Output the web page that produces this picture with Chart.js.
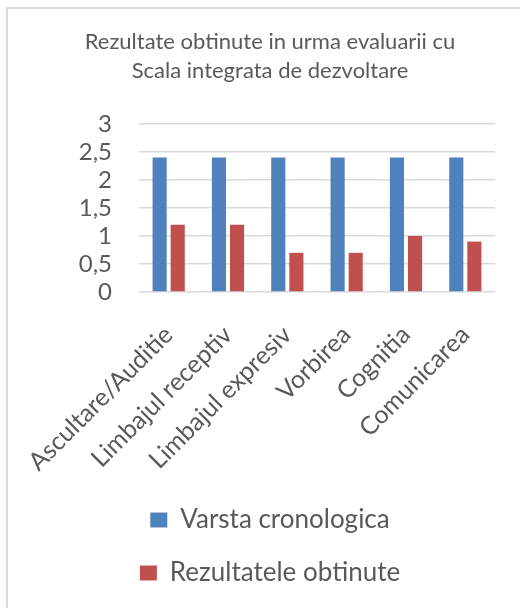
<!DOCTYPE html>
<html>
<head>
<meta charset="utf-8">
<script src="https://cdn.jsdelivr.net/npm/chart.js@4.4.1/dist/chart.umd.min.js"></script>
<style>
    body { margin: 0; background: #fff; }
    #wrap { position: relative; width: 520px; height: 608px; }
    #frame {
        position: absolute; left: 6px; top: 7px; right: 0; bottom: 0;
        border-left: 2px solid #dadada; border-top: 2px solid #dadada;
    }
    canvas { position: absolute; left: 0; top: 0; }
</style>
</head>
<body>
<div id="wrap">
    <div id="frame"></div>
    <canvas id="chart" width="520" height="608"></canvas>
</div>
<script>
// Chart data
const categories = ['Ascultare/Auditie', 'Limbajul receptiv', 'Limbajul expresiv', 'Vorbirea', 'Cognitia', 'Comunicarea'];
const varstaCronologica = [2.4, 2.4, 2.4, 2.4, 2.4, 2.4];
const rezultateleObtinute = [1.2, 1.2, 0.7, 0.7, 1.0, 0.9];
const titleLines = ['Rezultate obtinute in urma evaluarii cu', 'Scala integrata de dezvoltare'];

const textColor = '#595959';
const gridColor = '#d9d9d9';
const fontFamily = 'Lato, Carlito, Calibri, sans-serif';

const ctx = document.getElementById('chart').getContext('2d');
const chart = new Chart(ctx, {
    type: 'bar',
    data: {
        labels: categories,
        datasets: [{
            label: 'Varsta cronologica',
            data: varstaCronologica,
            backgroundColor: '#4f81bd',
            categoryPercentage: 0.61,
            barPercentage: 0.78
        }, {
            label: 'Rezultatele obtinute',
            data: rezultateleObtinute,
            backgroundColor: '#c0504d',
            categoryPercentage: 0.61,
            barPercentage: 0.78
        }]
    },
    options: {
        responsive: false,
        animation: false,
        layout: {
            padding: { top: 18, right: 25, left: 45, bottom: 12 }
        },
        plugins: {
            title: {
                display: true,
                text: titleLines,
                color: textColor,
                font: { family: fontFamily, size: 22, weight: 'normal', lineHeight: 29 / 22 },
                padding: { top: 9, bottom: 39 }
            },
            legend: {
                position: 'bottom',
                labels: {
                    color: textColor,
                    font: { family: fontFamily, size: 26 },
                    boxWidth: 17,
                    boxHeight: 15,
                    padding: 27
                }
            },
            tooltip: { enabled: false }
        },
        scales: {
            x: {
                grid: { display: false },
                border: { display: false },
                ticks: {
                    color: textColor,
                    font: { family: fontFamily, size: 25 },
                    maxRotation: 45,
                    minRotation: 45,
                    autoSkip: false,
                    padding: 20
                },
                afterFit: s => { s.height = 188; }
            },
            y: {
                min: 0,
                max: 3,
                grid: { color: gridColor, lineWidth: 1.5, drawTicks: false },
                border: { display: false },
                ticks: {
                    stepSize: 0.5,
                    autoSkip: false,
                    color: textColor,
                    font: { family: fontFamily, size: 24 },
                    padding: 27,
                    callback: v => String(v).replace('.', ',')
                },
                afterFit: s => { s.width = 94; }
            }
        }
    }
});
</script>
</body>
</html>
